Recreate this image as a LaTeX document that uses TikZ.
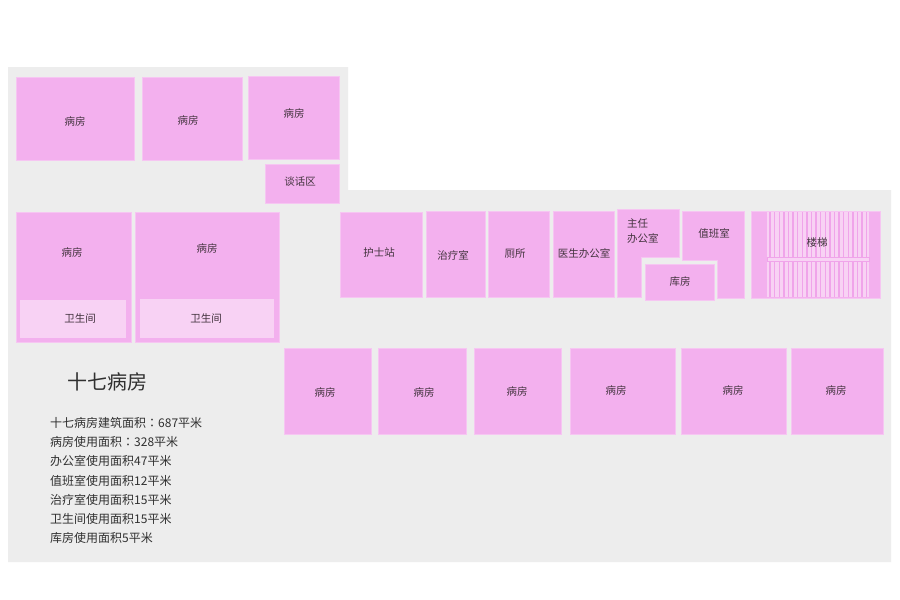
\documentclass[tikz,border=0pt]{standalone}
\usepackage{fontspec}
\setmainfont{Noto Sans CJK SC}
\newfontfamily\tcpunct{Noto Sans CJK TC}
\definecolor{bggray}{HTML}{EDEDED}
\definecolor{roompink}{HTML}{F3B0EE}
\definecolor{roomedge}{HTML}{F6C6F2}
\definecolor{lightpink}{HTML}{F8D2F4}
\definecolor{stairline}{HTML}{F0A4EA}
\definecolor{labeltext}{HTML}{44343F}
\definecolor{infotext}{HTML}{303030}
\tikzset{
  room/.style={fill=roompink, draw=roomedge, line width=0.7pt},
  bath/.style={fill=lightpink, draw=none},
  lbl/.style={text=labeltext, font=\fontsize{10.5}{12}\selectfont, inner sep=0pt},
  info/.style={text=infotext, font=\fontsize{12}{14}\selectfont, inner sep=0pt, anchor=west},
  titletext/.style={text=infotext, font=\fontsize{20}{24}\selectfont, inner sep=0pt},
}
\begin{document}
\begin{tikzpicture}[x=1pt,y=-1pt]
\useasboundingbox (0,0) rectangle (900,600);
\fill[white] (0,0) rectangle (900,600);
% background floor
\fill[bggray] (8,67) -- (348,67) -- (348,190) -- (891,190) -- (891,562) -- (8,562) -- cycle;

% top rows
\draw[room] (16,77) rectangle (134,160);
\node[lbl] (r1) at (75,121) {病房};
\draw[room] (142,77) rectangle (242,160);
\node[lbl] (r2) at (188,120) {病房};
\draw[room] (248,76) rectangle (339,159);
\node[lbl] (r3) at (294,113) {病房};
\draw[room] (265,164) rectangle (339,203);
\node[lbl] (talk) at (300,182) {谈话区};

% left wards with bathrooms
\draw[room] (16,212) rectangle (131,342);
\node[lbl] (r4) at (72,252) {病房};
\fill[bath] (20,300) rectangle (126,338);
\node[lbl] (b1) at (80,319) {卫生间};
\draw[room] (135,212) rectangle (279,342);
\node[lbl] (r5) at (207,248) {病房};
\fill[bath] (140,299) rectangle (274,338);
\node[lbl] (b2) at (206,319) {卫生间};

% corridor rooms
\draw[room] (340,212) rectangle (422,297);
\node[lbl] (nurse) at (379,253) {护士站};
\draw[room] (426,211) rectangle (485,297);
\node[lbl] (treat) at (453,255) {治疗室};
\draw[room] (488,211) rectangle (549,297);
\node[lbl] (wc) at (515,254) {厕所};
\draw[room] (553,211) rectangle (614,297);
\node[lbl] (doc) at (584,253) {医生办公室};
\draw[room] (617,209) -- (679,209) -- (679,257) -- (641,257) -- (641,297) -- (617,297) -- cycle;
\node[lbl, align=left, anchor=north west] (dir) at (627,218) {主任\\[3pt]办公室};
\draw[room] (682,211) -- (744,211) -- (744,298) -- (717,298) -- (717,260) -- (682,260) -- cycle;
\node[lbl] (duty) at (714,233) {值班室};
\draw[room] (645,264) rectangle (714,300);
\node[lbl] (store) at (680,282) {库房};

% stairs
\draw[room] (751,211) rectangle (880,298);
\fill[lightpink] (767,212) rectangle (869,297);
\foreach \i in {0,...,21} {
  \draw[stairline, line width=1.4pt] ({770+\i*4.6},212) -- ({770+\i*4.6},297);
}
\draw[fill=lightpink, draw=stairline, line width=0.9pt] (767,257) rectangle (869,261);
\node[lbl] (stairs) at (817,243) {楼梯};

% bottom row
\draw[room] (284,348) rectangle (371,434);
\node[lbl] (r6) at (325,392) {病房};
\draw[room] (378,348) rectangle (466,434);
\node[lbl] (r7) at (424,392) {病房};
\draw[room] (474,348) rectangle (561,434);
\node[lbl] (r8) at (517,391) {病房};
\draw[room] (570,348) rectangle (675,434);
\node[lbl] (r9) at (616,390) {病房};
\draw[room] (681,348) rectangle (786,434);
\node[lbl] (r10) at (733,390) {病房};
\draw[room] (791,348) rectangle (883,434);
\node[lbl] (r11) at (836,390) {病房};

% title and statistics
\node[titletext] (title) at (107,382) {十七病房};
\node[info] (s1) at (50,423) {十七病房建筑面积{\tcpunct ：}687平米};
\node[info] (s2) at (50,442.2) {病房使用面积{\tcpunct ：}328平米};
\node[info] (s3) at (50,461.4) {办公室使用面积47平米};
\node[info] (s4) at (50,480.6) {值班室使用面积12平米};
\node[info] (s5) at (50,499.8) {治疗室使用面积15平米};
\node[info] (s6) at (50,519) {卫生间使用面积15平米};
\node[info] (s7) at (50,538.2) {库房使用面积5平米};
\end{tikzpicture}
\end{document}
